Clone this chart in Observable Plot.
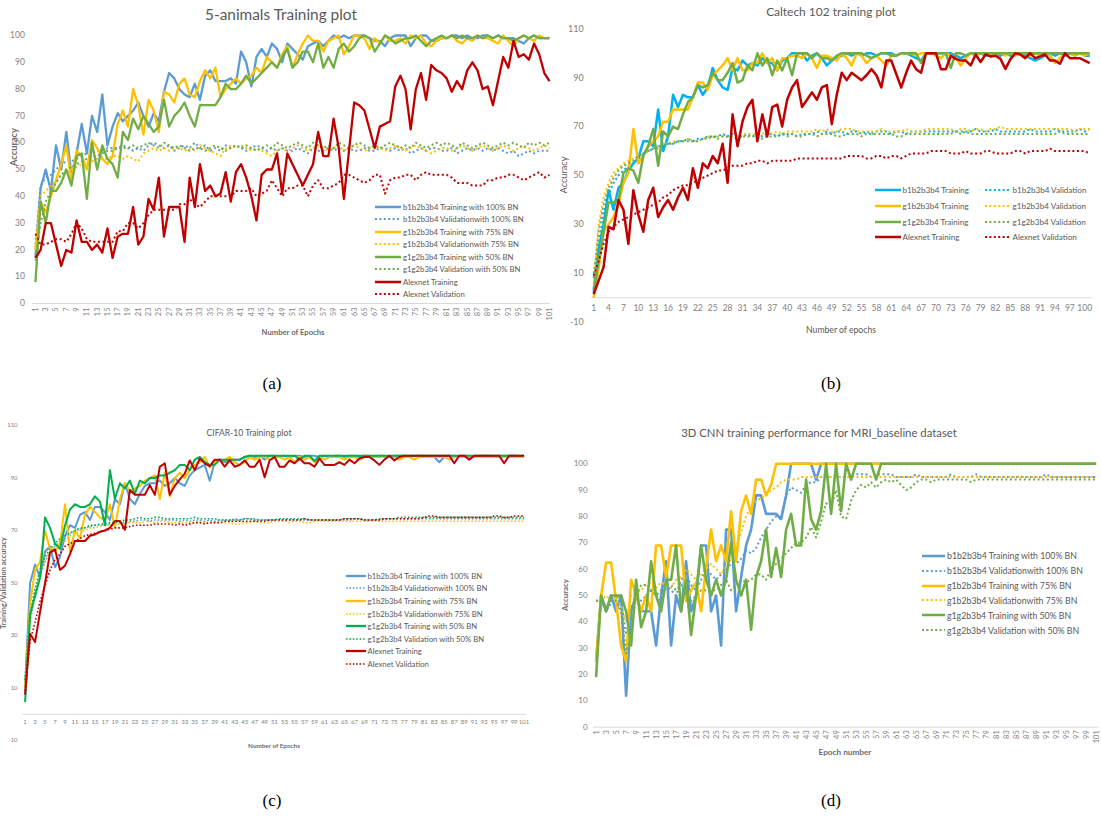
<!DOCTYPE html>
<html><head><meta charset="utf-8">
<script src="https://cdn.jsdelivr.net/npm/d3@7"></script>
<script src="https://cdn.jsdelivr.net/npm/@observablehq/plot@0.6"></script>
<style>
html,body{margin:0;padding:0;background:#fff;}
body{width:1101px;height:822px;position:relative;overflow:hidden;font-family:Lato,"Liberation Sans",sans-serif;}
.panel{position:absolute;}
</style></head><body>
<div id="pa" class="panel" style="left:0;top:0"></div>
<div id="pb" class="panel" style="left:550px;top:0"></div>
<div id="pc" class="panel" style="left:0;top:410px"></div>
<div id="pd" class="panel" style="left:550px;top:410px"></div>
<script>
// ---------- categories ----------
const epochs = d3.range(1, 102);
const ticksOdd = [1,3,5,7,9,11,13,15,17,19,21,23,25,27,29,31,33,35,37,39,41,43,45,47,49,51,53,55,57,59,61,63,65,67,69,71,73,75,77,79,81,83,85,87,89,91,93,95,97,99,101];
const ticksB = [1,4,7,10,13,16,19,22,25,28,31,34,37,40,43,46,49,52,55,58,61,64,67,70,73,76,79,82,85,88,91,94,97,100];
const yTicksA = [0,10,20,30,40,50,60,70,80,90,100];
const yTicksB = [-10,10,30,50,70,90,110];
const yTicksC = [-10,10,30,50,70,90,110];
const yTicksD = [0,10,20,30,40,50,60,70,80,90,100];

const titles = ["5-animals Training plot","Caltech 102 training plot","CIFAR-10 Training plot","3D CNN training performance for MRI_baseline dataset"];
const captions = ["(a)","(b)","(c)","(d)"];
const namesFull = ["b1b2b3b4 Training with 100% BN","b1b2b3b4 Validationwith 100% BN","g1b2b3b4 Training with 75% BN","g1b2b3b4 Validationwith 75% BN","g1g2b3b4 Training with 50% BN","g1g2b3b4 Validation with 50% BN","Alexnet Training","Alexnet Validation"];
const namesB = ["b1b2b3b4 Training","b1b2b3b4 Validation","g1b2b3b4 Training","g1b2b3b4 Validation","g1g2b3b4 Training","g1g2b3b4 Validation","Alexnet Training","Alexnet Validation"];

// ---------- (a) 5-animals ----------
const aBlueTrain = [17,43,50,42,59,50,64,48,56,67, 56,70,64,78,59,66,71,68,70,72, 75,70,66,71,68,79,86,84,80,78, 77,82,76,85,87,83,83,83,84,82, 94,90,81,92,95,92,97,95,90,97, 95,93,91,96,97,98,96,98,100,99, 100,99,100,100,100,99,98,98,96,99, 100,100,100,96,99,100,100,98,98,99, 99,100,100,99,100,99,99,100,100,99, 100,99,99,99,98,97,99,100,99,99,99];
const aBlueVal = [22,44,47,48,50,52,53,53,54,55, 56,56,57,57,58,58,58,59,58,57, 58,57,59,60,59,58,59,57,58,59, 58,60,58,59,57,58,57,59,58,59, 58,57,58,59,58,57,58,57,58,57, 57,58,57,56,58,57,57,58,57,58, 57,58,57,57,58,57,57,58,58,57, 58,57,58,56,57,58,57,58,58,57, 57,58,56,57,58,57,58,57,58,57, 58,57,56,57,55,56,57,56,57,57,57];
const aYellowTrain = [20,38,34,40,46,52,59,46,57,55, 50,61,58,54,52,55,67,72,66,80, 74,63,76,72,64,79,78,75,82,84, 78,77,83,87,84,88,77,80,82,84, 82,84,85,88,86,92,90,88,93,96, 88,93,97,100,98,98,94,98,99,100, 93,96,100,100,99,95,99,97,100,98, 98,99,97,100,99,100,97,96,98,99, 99,100,98,97,99,98,100,99,99,98, 97,100,98,96,99,100,99,98,100,99,99];
const aYellowVal = [21,40,42,44,46,48,49,50,51,52, 53,53,54,54,54,55,55,54,55,54, 53,56,57,58,57,58,57,58,58,57, 58,57,59,58,57,56,55,58,59,58, 59,58,57,58,57,56,55,57,58,57, 58,59,58,57,58,59,58,57,58,59, 57,58,59,58,57,58,59,58,57,58, 59,58,57,58,59,58,57,56,57,58, 58,57,58,59,58,57,58,59,58,57, 58,59,58,57,58,59,58,57,58,59,58];
const aGreenTrain = [8,38,30,42,42,45,50,44,55,56, 39,60,50,59,54,52,47,64,61,69, 65,70,67,64,66,76,66,70,72,75, 70,66,74,74,74,74,77,82,80,80, 82,85,82,84,86,88,90,88,92,95, 88,90,94,94,90,97,88,92,88,95, 97,94,96,99,100,99,94,97,100,99, 97,98,99,99,100,98,96,98,99,100, 99,100,99,100,99,99,100,99,100,99, 100,99,99,98,99,100,99,100,99,99,99];
const aGreenVal = [16,30,38,42,45,48,50,51,52,53, 54,55,55,56,57,57,58,58,58,59, 58,59,60,59,58,60,59,58,59,58, 57,58,58,57,58,59,58,57,58,59, 58,59,58,57,58,59,58,60,59,58, 59,60,59,58,60,59,58,59,58,60, 59,58,59,60,59,58,59,58,59,60, 59,58,59,58,60,59,58,59,60,59, 60,59,58,60,59,58,59,60,59,58, 59,60,59,60,59,58,60,59,60,59,60];
const aRedTrain = [17,20,30,30,22,14,20,19,31,23, 23,20,22,19,28,17,25,26,26,36, 22,25,39,35,47,25,36,36,36,23, 47,36,52,42,44,40,41,49,38,49, 52,47,40,31,48,50,50,56,41,56, 52,48,44,48,52,64,55,55,69,58, 39,57,75,74,72,65,58,66,67,68, 81,85,80,65,80,86,76,89,87,86, 84,79,83,80,87,90,87,80,81,74, 83,92,88,98,92,93,91,97,93,86,83];
const aRedVal = [26,22,22,23,24,24,23,26,30,28, 24,23,23,23,23,23,27,27,30,30, 28,30,33,35,35,35,35,35,37,37, 39,37,36,38,40,40,40,40,40,42, 42,42,43,40,41,42,46,43,40,43, 43,44,44,40,44,46,43,43,44,45, 48,48,47,46,45,46,48,48,41,46, 47,47,48,48,46,48,49,48,48,48, 48,47,45,45,45,44,44,44,46,46, 47,47,48,48,47,46,47,48,49,47,48];

// ---------- (b) Caltech 102 ----------
const bBlueTrain = [3,20,30,44,36,45,47,52,55,57, 64,64,62,77,60,66,83,78,83,82, 82,87,83,86,94,89,86,85,94,93, 97,95,96,95,98,96,96,93,97,98, 100,100,100,97,99,100,98,95,97,98, 99,100,99,100,99,100,100,99,100,100, 100,99,100,100,99,98,97,100,100,100, 100,100,100,99,98,99,100,100,100,99, 100,100,99,100,99,100,100,99,98,97, 98,99,100,99,100,99,100,99,100,99,99];
const bBlueVal = [10,22,34,42,47,50,52,54,55,57, 59,60,61,62,62,63,63,64,64,65, 64,65,65,66,66,66,67,66,67,66, 66,67,66,67,66,67,67,66,67,67, 67,66,67,67,67,68,67,68,67,68, 68,67,68,68,67,68,67,68,68,68, 67,68,68,67,68,68,68,68,68,68, 68,68,68,68,68,68,68,69,68,68, 68,69,68,68,68,68,68,68,69,68, 68,68,68,69,68,68,68,68,69,68,69];
const bYellowTrain = [0,12,27,30,33,38,47,51,69,55, 58,62,64,66,72,72,77,77,77,77, 82,88,88,85,91,93,95,98,93,98, 93,93,96,96,100,96,98,93,98,98, 99,99,98,100,98,94,99,99,98,97, 100,98,95,100,99,96,98,99,97,95, 99,99,100,100,100,99,100,100,100,99, 98,100,99,98,95,98,100,99,100,100, 99,100,100,99,100,99,100,100,99,100, 99,100,99,96,98,100,100,99,100,99,100];
const bYellowVal = [5,30,41,47,51,53,55,56,57,58, 59,60,61,62,63,63,64,64,64,65, 64,64,65,66,66,66,66,66,67,67, 67,67,67,67,67,68,67,68,67,68, 68,68,68,68,68,69,68,69,68,68, 69,69,69,68,68,68,68,68,69,68, 68,68,68,69,68,68,68,69,69,69, 69,69,69,68,69,69,68,69,69,68, 69,69,70,69,69,69,69,69,69,69, 69,69,69,69,69,69,69,68,69,69,69];
const bGreenTrain = [2,15,27,39,39,40,51,53,52,47, 58,62,69,54,68,66,70,69,75,80, 82,87,86,87,92,89,89,92,96,88, 89,95,93,100,95,98,91,97,93,98, 91,100,100,100,98,100,98,98,97,99, 100,100,100,100,100,99,98,99,100,100, 99,99,100,100,100,100,96,100,100,100, 100,100,94,100,100,99,100,100,100,100, 100,100,100,100,100,100,100,100,100,100, 100,100,100,100,100,100,100,100,100,100,100];
const bGreenVal = [8,27,38,45,49,52,54,55,56,58, 59,60,61,61,62,63,63,64,64,64, 64,64,65,65,66,65,66,66,66,65, 66,66,66,66,65,66,66,66,67,66, 67,66,66,67,67,66,67,67,67,66, 66,67,67,67,66,67,67,67,67,67, 67,66,66,67,67,67,67,67,67,67, 67,67,67,68,67,68,67,67,67,67, 67,67,67,67,67,67,67,67,67,67, 67,67,67,67,68,67,67,67,67,67,67];
const bRedTrain = [1.5,7,12.5,29,28,40,36,22,44,34, 27,40,45,33,37,40,36,41,45,40, 53,45,55,53,58,55,63,47,75,62, 72,78,81,64,75,66,78,79,70,81, 86,89,78,81,84,81,86,87,71,83, 92,89,92,90.5,89,91,93.5,91,86,97, 97,91.5,86,92,97,93.5,92,100,100,100, 93.5,93.5,99,97.7,97,97,95,99.5,96.4,99.5, 98.7,99,97.7,93.6,97.5,100,99.5,98,100,98, 98.7,99.5,97,97,95.7,100,98,98,98,97,96];
const bRedVal = [9,15,22,27,29,31,32,33,34,35, 36,37,38,39,41,42,44,45,46,46, 47,48,49,50,51,52,52,53,54,54, 54,55,55,56,56,55,56,56,56,56, 56,57,57,57,57,57,57,57,57,57, 57,58,58,58,58,57,57,58,58,57, 58,58,57,58,59,59,59,59,60,60, 60,60,59,59,59,60,59,59,59,60, 60,59,59,59,59,60,60,59,60,60, 60,60,61,60,60,60,60,60,60,60,59];

// ---------- (c) CIFAR-10 ----------
const cBlueTrain = [11,50,57,52,62,64,56,60,68,72, 71,76,77,74,79,79,77,74,82,80, 88,82,80,84,87,88,88,89,87,88, 90,88,87,91,93,94,95,89,96,97, 96,97,97,97,98,98.5,98,98.5,97,98.5, 98.5,98,98.5,98,98.5,98.5,98,98.5,98.5,98, 98.5,98,98.5,98.5,98,98.5,98.5,98,98.5,98.5, 98,98.5,98.5,98,98.5,98.5,98.5,98,98.5,98.5, 98.5,98,98,96,98,98.5,98.5,98,98.5,98.5, 98,98.5,98.5,98.5,98,98.5,98.5,98.5,98.5,98,98];
const cBlueVal = [12,35,46,53,58,62,64,66,68,69, 70,70.5,71,71.5,72,72,72,72.5,72.5,73, 73,73.5,73.5,74,74,73.5,74,74,74,74, 74,73.5,74,73.5,74,74,73.5,74,73.5,74, 74,74,74.5,74,74.5,74.5,74.5,74,74,74, 74,74,74,74,74,74,74,74,74,74, 74,74,74,74,74,74,74.5,74.5,74,74, 74,74,74.5,74.5,74.5,74.5,74.5,74.5,74.5,74.5, 74.5,74.5,74.5,74.5,74.5,74.5,74.5,74.5,74.5,74.5, 74.5,74.5,74.5,74.5,74.5,74.5,74.5,74.5,74.5,74.5,74.5];
const cYellowTrain = [10,42,55,58,70,63,62,65,80,62, 70,67,76,79,77,75,74,80,71,82, 88,85,86,87,89,90,91,82,92,83, 90,92,90,93,95,96,98,94,96,97, 97,98,96,95,96,98,97,98,98,97, 98,98,97,98,96,98,97,98,96,98, 97,98,98,98,97,98,98,97,98,98, 98,98,98,98,98,97,98,98,97,98, 98,98,98,98,98,97,98,98,98,98, 98,98,98,98,98,98,98,98,98,98,98];
const cYellowVal = [10,36,47,54,59,62,64,65,66,68, 69,70,70,71,71,71.5,72,72,72.5,72.5, 72.5,73,73,73,73.5,73.5,73,73.5,73.5,73, 73,73,73,73,73,73.5,73,73,73,73, 73,73,72.5,72.5,73,73,73.5,73,73,73, 73.5,73.5,73.5,73,73.5,73.5,73,73,73.5,73.5, 73.5,73.5,73.5,73.5,73.5,73.5,73.5,73.5,73.5,73.5, 73.5,73.5,73.5,73.5,73.5,73.5,73.5,73.5,73.5,73.5, 73.5,73.5,73.5,73.5,73.5,73.5,73.5,73.5,73.5,73.5, 73.5,73.5,73.5,73.5,73.5,73.5,73.5,73.5,73.5,73.5,73.5];
const cGreenTrain = [4.6,38,45,52,75,71,65,63,72,78, 80,79,79,80,83,81,72,93,82,88, 86,89,84,89,88,90,90,91,91,92, 93,95,95,93,97,98,96,95,95,97, 97,97,97,97,98,98.5,98.5,98.5,98.5,98.5, 98.5,98.5,98.5,98.5,98.5,97,98.5,98.5,96.5,98.5, 98.5,98.5,98.5,98.5,98.5,98.5,98.5,98.5,98.5,98.5, 98.5,98.5,98.5,98.5,98.5,98.5,98.5,98.5,98.5,98.5, 98.5,98.5,98.5,98.5,98.5,98.5,98.5,98.5,98.5,98.5, 98.5,98.5,98.5,98.5,98.5,98.5,98.5,98.5,98.5,98.5,98.5];
const cGreenVal = [13,38,48,55,60,63,65,67,68,69, 70,71,71,72,72,72.5,72.5,73,73,73.5, 74,74,74.5,75,74.5,74.5,75,75,74.5,74.5, 74.5,74.5,74.5,74.5,75,74.5,74.5,74.5,74.5,74, 74,74,74,74,74.5,74.5,74,74,74,74, 74,74.5,74.5,74.5,74.5,74.5,74.5,74,74,74, 74,74,74,74,74.5,74.5,74.5,74.5,74,74, 74,74.5,74.5,74.5,74.5,75,75,75,75,75, 75,75,75,75,75,75,75,75,75,75, 75,75,75,75,75,75,75,75,75,75,75];
const cRedTrain = [7.5,30.7,27.5,39,50,61.6,62.8,55,56.6,61, 66,66,66,68,68.5,69.5,70,71,73.6,73.6, 70.3,85.4,83.6,83.6,83.6,87.3,83.6,94.3,95.6,83.6, 87,89.5,91.7,96.7,93,97.4,95.6,94.5,97,97, 94.3,96.7,94.3,95,96.7,94.3,94.3,97,90.3,96.7, 98,94.3,94.3,96.7,95.6,97.4,95.6,95.6,94.3,97.4, 95,95,95,96,95,97,95.6,97.4,98,98, 96.7,95,97,98.5,96.7,98,98.5,98.5,98.5,98.5, 98.5,98.5,98.5,98.5,98.5,98.5,95.6,98.5,98.5,97, 98.5,98.5,98.5,98.5,98.5,98.5,95.6,98.5,98.5,98.5,98.5];
const cRedVal = [9,28,35,43,49,55,59,61,64,65, 66,67,68,68.5,69,69.5,70,70.5,71,71, 71,71.5,72,72,72,72,72.5,72.5,72.5,72.5, 72,72.5,72,72.5,73,73,72.5,73,73,73, 73.5,73.5,73.5,73.5,73.5,73.5,73.5,73.5,73.5,74, 74,74,74,74,74,74,74.5,74,74,74, 74,74,74,74,74.5,74.5,74.5,74.5,74,74, 74,74,74.5,74.5,74.5,74.5,74.5,74.5,74.5,74.5, 75,75.5,75.5,75,75,75,75,75,75,75, 75,75,75,75,75.5,75.5,75,75,75.5,75.5,75.5];

// ---------- (d) 3D CNN MRI_baseline ----------
const dBlueTrain = [25,50,44,50,44,50,12,44,50,44, 44,44,31,50,63,31,50,44,63,44, 50,69,69,44,50,31,75,75,44,57, 69,75,88,88,81,81,81,79,88,100, 100,100,100,100,94,100,100,100,100,100, 100,100,100,100,100,100,100,100,100,100, 100,100,100,100,100,100,100,100,100,100, 100,100,100,100,100,100,100,100,100,100, 100,100,100,100,100,100,100,100,100,100, 100,100,100,100,100,100,100,100,100,100,100];
const dBlueVal = [48,48,44,47,50,48,35,45,50,48, 50,52,50,48,54,52,50,56,58,54, 52,56,60,58,56,58,60,62,62,64, 67,66,68,72,75,78,80,79,88,91, 90,89,92,93,93,95,95,95,95,95, 95,95,96,96,96,95,96,96,96,96, 95,95,95,95,96,95,95,95,95,95, 95,96,95,95,95,95,96,95,95,95, 95,95,95,95,95,95,95,95,95,95, 96,95,95,95,95,95,95,95,95,95,95];
const dYellowTrain = [25,50,62.5,62.5,48,31,25,56,50,44, 50,44,69,69,57,69,69,69,48,52, 55,44,61,75,63,69,63,82,63,82, 88,81,94,94,88,92,100,100,100,100, 100,100,100,100,100,100,100,100,100,100, 100,100,100,100,100,100,100,100,100,100, 100,100,100,100,100,100,100,100,100,100, 100,100,100,100,100,100,100,100,100,100, 100,100,100,100,100,100,100,100,100,100, 100,100,100,100,100,100,100,100,100,100,100];
const dYellowVal = [48,48,50,48,48,46,40,50,51,52, 54,55,53,55,54,53,56,57,60,58, 56,58,60,62,60,58,61,64,68,74, 80,84,86,87,88,90,91,93,94,94, 94,95,95,95,95,95,95,95,95,95, 95,95,95,95,95,95,95,95,95,95, 95,95,95,95,95,95,95,95,95,95, 95,95,95,95,95,95,95,95,95,95, 95,95,95,95,95,95,95,95,95,95, 95,95,95,95,95,95,95,95,95,95,95];
const dGreenTrain = [19,50,44,50,50,50,44,31,56,38, 44,63,50,44,56,56,69,44,56,35, 50,69,56,50,56,50,56,70,56,50, 56,37,57,63,75,57,68,57,75,81, 69,69,94,79,75,82,100,81,100,82, 100,94,100,100,100,100,94,100,100,100, 100,100,100,100,100,100,100,100,100,100, 100,100,100,100,100,100,100,100,100,100, 100,100,100,100,100,100,100,100,100,100, 100,100,100,100,100,100,100,100,100,100,100];
const dGreenVal = [48,48,46,48,48,44,28,35,50,54, 54,52,50,52,54,54,52,54,50,48, 50,52,52,52,52,54,56,52,54,56, 55,56,58,58,56,60,62,64,66,68, 70,70,72,76,72,78,85,84,90,80, 79,86,90,92,91,93,91,93,94,93, 94,92,90,91,93,94,94,93,94,94, 94,94,94,94,94,93,94,94,94,94, 94,94,94,94,94,94,94,94,94,94, 94,94,94,94,94,94,94,94,94,94,94];

// ---------- colours ----------
const BLUE = "#5b9bd5", CYAN = "#00b0f0", GOLD = "#ffc000", GREEN = "#70ad47", GREEN2 = "#00b050", RED = "#c00000";
const FONT = "Lato, 'Liberation Sans', sans-serif";

function mkSeries(names, vals, colors) {
  return names.map((n, i) => ({name: n, values: vals[i], color: colors[i], dotted: i % 2 === 1}));
}
const seriesA = mkSeries(namesFull, [aBlueTrain,aBlueVal,aYellowTrain,aYellowVal,aGreenTrain,aGreenVal,aRedTrain,aRedVal], [BLUE,BLUE,GOLD,GOLD,GREEN,GREEN,RED,RED]);
const seriesB = mkSeries(namesB, [bBlueTrain,bBlueVal,bYellowTrain,bYellowVal,bGreenTrain,bGreenVal,bRedTrain,bRedVal], [CYAN,CYAN,GOLD,GOLD,GREEN,GREEN,RED,RED]);
const seriesC = mkSeries(namesFull, [cBlueTrain,cBlueVal,cYellowTrain,cYellowVal,cGreenTrain,cGreenVal,cRedTrain,cRedVal], [BLUE,BLUE,GOLD,GOLD,GREEN2,GREEN2,RED,RED]);
const seriesD = mkSeries(namesFull.slice(0,6), [dBlueTrain,dBlueVal,dYellowTrain,dYellowVal,dGreenTrain,dGreenVal], [BLUE,BLUE,GOLD,GOLD,GREEN,GREEN]);

function drawPanel(el, cfg) {
  const rows = [];
  cfg.series.forEach(s => s.values.forEach((v, i) => rows.push({epoch: epochs[i], value: v, name: s.name})));
  const marks = [Plot.ruleY([0], {stroke: "#d9d9d9", strokeWidth: 1})];
  cfg.series.forEach(s => {
    marks.push(Plot.line(rows.filter(r => r.name === s.name), {
      x: "epoch", y: "value", stroke: s.color,
      strokeWidth: s.dotted ? cfg.dotW : cfg.lineW,
      strokeDasharray: s.dotted ? cfg.dash : null,
      strokeLinejoin: "round", strokeLinecap: "butt"
    }));
  });
  marks.push(Plot.axisY(cfg.yTicks, {tickSize: 0, tickPadding: cfg.yPad, fontSize: cfg.yFont, fill: "#7f7f7f", tickFormat: d => String(d), label: null}));
  marks.push(Plot.axisX(cfg.xTicks, {tickSize: 0, tickPadding: cfg.xPad, tickRotate: cfg.rot, fontSize: cfg.xFont, fill: "#7f7f7f", dy: cfg.xDy, tickFormat: d => String(d), label: null}));
  const svg = Plot.plot({
    width: cfg.width, height: cfg.height,
    marginLeft: cfg.ml, marginRight: cfg.mr, marginTop: cfg.mt, marginBottom: cfg.mb,
    style: {fontFamily: FONT, background: "transparent", overflow: "visible"},
    x: {type: "linear", domain: cfg.xDomain},
    y: {domain: cfg.yDomain},
    marks
  });
  el.appendChild(svg);
}

drawPanel(document.getElementById("pa"), {series: seriesA, width: 550, height: 345, ml: 32.4, mr: 0, mt: 35, mb: 42,
  xDomain: [0.5, 101.2], yDomain: [0, 100], yTicks: yTicksA, xTicks: ticksOdd, rot: -90, yPad: 8, xPad: 4, yFont: 8.5, xFont: 7.5, xDy: 0,
  lineW: 2.3, dotW: 2, dash: "2,2.6"});
drawPanel(document.getElementById("pb"), {series: seriesB, width: 551, height: 345, ml: 40.7, mr: 9.3, mt: 28.3, mb: 23.3,
  xDomain: [0.5, 101.5], yDomain: [-10, 110], yTicks: yTicksB, xTicks: ticksB, rot: 0, yPad: 7.5, xPad: 0, yFont: 9, xFont: 8.5, xDy: -17.5,
  lineW: 2.5, dotW: 2, dash: "2,2.6"});
drawPanel(document.getElementById("pc"), {series: seriesC, width: 550, height: 350, ml: 22.1, mr: 23.9, mt: 15, mb: 20,
  xDomain: [0.5, 101.5], yDomain: [-10, 110], yTicks: yTicksC, xTicks: ticksOdd, rot: 0, yPad: 5, xPad: 0, yFont: 6, xFont: 6, xDy: -20.5,
  lineW: 2, dotW: 1.6, dash: "1.6,2"});
drawPanel(document.getElementById("pd"), {series: seriesD, width: 551, height: 345, ml: 43.1, mr: 2.9, mt: 53.3, mb: 28.3,
  xDomain: [0.5, 101.5], yDomain: [0, 100], yTicks: yTicksD, xTicks: ticksOdd, rot: -90, yPad: 6, xPad: 3, yFont: 8, xFont: 7.5, xDy: 0,
  lineW: 2.6, dotW: 2, dash: "2,2.6"});

// ---------- HTML texts ----------
function label(txt, o) {
  const d = document.createElement("div");
  d.textContent = txt;
  d.style.cssText = `position:absolute;left:0;top:0;white-space:nowrap;font-family:${o.family || FONT};font-size:${o.size}px;color:${o.color || "#595959"};font-weight:${o.weight || 400};line-height:1;`;
  document.body.appendChild(d);
  if (o.w) { const w = d.getBoundingClientRect().width; d.style.fontSize = (o.size * o.w / w) + "px"; }
  d.style.left = o.x + "px"; d.style.top = o.y + "px";
  d.style.transform = "translate(-50%,-50%)" + (o.rot ? " rotate(-90deg)" : "");
  return d;
}
// titles
label(titles[0], {x: 281, y: 15, size: 16, w: 152});
label(titles[1], {x: 831, y: 12, size: 12, w: 130});
label(titles[2], {x: 249, y: 433, size: 9, w: 85});
label(titles[3], {x: 819, y: 433, size: 12, w: 276});
// axis titles
label("Number of Epochs", {x: 293, y: 333, size: 8, w: 63, weight: 700, color: "#6b6b6b"});
label("Accuracy", {x: 14, y: 147, size: 9, w: 38, weight: 700, color: "#6b6b6b", rot: true});
label("Number of epochs", {x: 841, y: 330, size: 9, w: 70});
label("Accuracy", {x: 564, y: 175, size: 9, w: 37, rot: true});
label("Number of Epochs", {x: 274, y: 746, size: 6.5, w: 52, weight: 700, color: "#6b6b6b"});
label("Training/Validation accuracy", {x: 4, y: 583, size: 6.5, w: 92, weight: 700, color: "#6b6b6b", rot: true});
label("Epoch number", {x: 845, y: 752, size: 8.5, w: 53, weight: 700, color: "#6b6b6b"});
label("Accuracy", {x: 566, y: 595, size: 8, w: 32, weight: 700, color: "#6b6b6b", rot: true});
// captions
const capPos = [[272, 383], [831, 383], [272, 800], [831, 800]];
captions.forEach((c, i) => label(c, {x: capPos[i][0], y: capPos[i][1], size: 17, family: "'Liberation Serif', 'DejaVu Serif', serif", color: "#000"}));

// ---------- legends ----------
function legend(series, o) {
  const probe = document.createElement("span");
  probe.style.cssText = `position:absolute;white-space:nowrap;font-family:${FONT};font-size:10px;visibility:hidden;`;
  probe.textContent = o.ref;
  document.body.appendChild(probe);
  const fs = 10 * o.refW / probe.getBoundingClientRect().width;
  probe.remove();
  series.forEach((s, i) => {
    // two-column layout: training entries left, validation entries right
    const col = o.twoCol ? i % 2 : 0;
    const row = o.twoCol ? Math.floor(i / 2) : i;
    const x0 = o.x0[col], y = o.y0 + row * o.dy;
    const div = document.createElement("div");
    div.style.cssText = `position:absolute;left:${x0}px;top:${y - 7}px;height:14px;display:flex;align-items:center;white-space:nowrap;`;
    const ns = "http://www.w3.org/2000/svg";
    const svg = document.createElementNS(ns, "svg");
    svg.setAttribute("width", o.len); svg.setAttribute("height", 6);
    const ln = document.createElementNS(ns, "line");
    ln.setAttribute("x1", 0); ln.setAttribute("x2", o.len); ln.setAttribute("y1", 3); ln.setAttribute("y2", 3);
    ln.setAttribute("stroke", s.color); ln.setAttribute("stroke-width", s.dotted ? o.dotW : o.lineW);
    if (s.dotted) ln.setAttribute("stroke-dasharray", o.dash);
    svg.appendChild(ln);
    div.appendChild(svg);
    const sp = document.createElement("span");
    sp.textContent = s.name;
    sp.style.cssText = `margin-left:${o.gap}px;font-family:${FONT};font-size:${fs}px;color:#595959;`;
    div.appendChild(sp);
    document.body.appendChild(div);
  });
}
legend(seriesA, {x0: [375], y0: 206.7, dy: 12.5, len: 26, gap: 2, ref: namesFull[1], refW: 121, lineW: 2.5, dotW: 2, dash: "2,2.4"});
legend(seriesB, {twoCol: true, x0: [875, 985], y0: 190, dy: 15.8, len: 26, gap: 1.5, ref: namesB[1], refW: 74, lineW: 2.5, dotW: 2, dash: "2,2.4"});
legend(seriesC, {x0: [346], y0: 575.7, dy: 12.6, len: 20, gap: 1.5, ref: namesFull[1], refW: 120, lineW: 2.3, dotW: 1.6, dash: "1.6,1.8"});
legend(seriesD, {x0: [922], y0: 555.7, dy: 14.9, len: 23, gap: 2, ref: namesFull[1], refW: 136, lineW: 2.5, dotW: 2, dash: "2,2.4"});
</script>
</body></html>
